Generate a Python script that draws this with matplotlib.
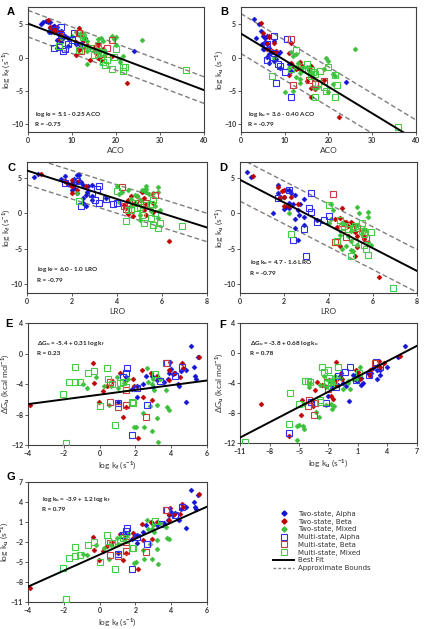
import matplotlib
matplotlib.use("Agg")
import matplotlib.pyplot as plt
from matplotlib.lines import Line2D

plt.rcParams['font.family'] = ['Lato', 'DejaVu Sans']
plt.rcParams['font.weight'] = 'bold'
plt.rcParams['mathtext.fontset'] = 'custom'
plt.rcParams['mathtext.rm'] = 'Lato:bold'
plt.rcParams['mathtext.it'] = 'Lato:bold'
plt.rcParams['mathtext.bf'] = 'Lato:bold'
plt.rcParams['mathtext.default'] = 'rm'

# ---------------- data: one entry per protein ----------------
# two-state, alpha
kf_ta = [5.1, 5.5, 5.3, 5.35, 5.4, 4.8, 4.55, 4.2, 4.1, 4.0, 3.9, 4.45, 4.4, 3.8, 3.6, 3.2, 4.8, 2.9, 2.6, 3.0, 2.4, 2.1, 2.1, 1.8, 1.5, 1.0]
ku_ta = [5.8, 5.1, 4.0, 3.2, 2.9, 3.2, 2.9, 2.3, 2.1, 2.5, 2.0, 1.3, 1.5, 1.35, 0.9, 0.6, 0.1, 0.8, 0.5, -0.2, -0.5, -1.0, -2.1, -1.6, -0.8, -3.7]
dg_ta = [1.0, -0.5, -1.8, -2.9, -3.4, -2.2, -2.3, -2.6, -2.7, -2.0, -2.6, -4.3, -4.0, -3.3, -3.7, -3.5, -6.4, -2.9, -2.9, -4.4, -4.0, -4.2, -5.7, -4.6, -3.1, -6.4]
aco_ta = [3.0, 4.2, 4.5, 5.0, 3.5, 6.0, 5.5, 5.5, 6.0, 7.5, 4.8, 5.0, 6.3, 5.2, 7.0, 8.5, 6.0, 9.0, 6.5, 8.0, 7.5, 11.0, 11.5, 9.0, 6.5, 24.0]
lro_ta = [0.3, 0.5, 1.7, 2.2, 2.3, 2.1, 1.7, 2.0, 1.8, 2.5, 2.9, 2.4, 2.2, 2.7, 2.1, 2.0, 1.5, 2.2, 2.6, 2.65, 2.9, 3.5, 2.5, 2.9, 2.5, 2.6]

# two-state, beta
kf_tb = [-3.9, -0.35, -0.3, -0.04, 0.43, 0.69, 1.33, 1.42, 1.85, 1.93, 2.17, 2.36, 2.86, 3.2, 2.95, 3.94, 3.85, 4.13, 4.6, 4.65, 5.57, 3.85, 1.5, 1.14, 2.45, 4.5, 0.2]
ku_tb = [-8.9, -1.25, -3.15, -4.65, -2.65, -1.95, -4.75, -1.25, -0.65, -1.25, -6.0, 0.75, 1.0, 1.0, -1.5, 3.15, 2.25, 2.25, 3.65, 3.25, 5.25, 1.25, -3.6, -0.75, -1.75, 2.25, -3.4]
dg_tb = [-6.8, -1.2, -3.9, -6.3, -4.2, -3.6, -8.3, -3.6, -3.4, -4.3, -11.1, -2.2, -2.5, -3.0, -6.1, -1.1, -2.2, -2.6, -1.3, -1.9, -0.4, -3.5, -7.0, -2.6, -5.7, -3.1, -4.9]
aco_tb = [22.5, 14.0, 16.5, 16.0, 11.0, 15.5, 17.0, 12.0, 13.5, 16.0, 16.0, 11.0, 7.0, 8.0, 13.0, 6.5, 7.5, 6.0, 5.0, 6.5, 4.5, 6.0, 15.0, 11.5, 12.5, 11.5, 19.0]
lro_tb = [6.3, 4.7, 5.3, 4.5, 5.2, 4.4, 5.3, 4.8, 4.5, 5.0, 5.2, 4.6, 2.0, 2.2, 5.1, 1.9, 2.0, 1.8, 1.7, 2.0, 0.6, 2.6, 5.6, 4.3, 4.9, 2.3, 5.6]

# two-state, mixed
kf_tm = [-0.92, -0.73, 0.26, 0.64, 0.95, 1.36, 1.6, 2.04, 2.73, 2.97, 3.05, 3.2, 3.2, 2.92, 3.29, 3.76, 3.85, 2.82, 2.45, 2.64, 1.9, 2.5, 2.9, 1.0, 3.4, 3.7, 0.5, -0.2]
ku_tm = [-3.85, -4.0, -2.85, -2.5, -1.35, -1.5, -0.85, -5.0, 0.0, 0.5, -0.5, -1.75, -3.0, -4.5, -5.25, -1.4, -1.6, -2.25, -3.25, 1.25, -5.2, -4.6, 0.0, -2.3, 0.9, 0.2, -4.5, -2.5]
dg_tm = [-4.0, -4.5, -4.2, -4.3, -3.1, -3.9, -3.3, -9.6, -3.7, -3.4, -4.8, -6.8, -8.5, -10.1, -11.6, -7.0, -7.4, -6.9, -7.8, -1.9, -9.7, -9.7, -4.0, -4.5, -3.4, -4.8, -6.8, -3.1]
aco_tm = [13.5, 21.0, 21.5, 16.0, 15.0, 14.0, 13.0, 12.0, 19.5, 12.5, 20.0, 19.0, 12.5, 16.5, 10.0, 12.5, 11.0, 16.0, 13.5, 26.0, 20.0, 17.0, 7.5, 13.5, 11.5, 12.0, 17.5, 21.0]
lro_tm = [5.0, 5.8, 5.5, 5.5, 4.6, 4.7, 4.1, 4.6, 5.4, 4.2, 5.8, 5.2, 4.5, 5.3, 5.1, 4.0, 5.3, 5.6, 4.9, 4.1, 5.0, 4.8, 2.2, 5.7, 5.3, 5.8, 5.9, 5.0]

# multi-state, alpha
kf_ma = [1.51, 1.29, 2.07, 1.83, 2.64, 3.38, 3.76, 4.6, 1.48, 4.2, 1.0]
ku_ma = [0.15, -1.0, -1.25, -6.0, -2.25, 0.75, 2.85, 3.25, -0.35, 2.1, -3.8]
dg_ma = [-1.9, -3.1, -4.5, -10.7, -6.7, -3.6, -1.2, -1.8, -2.5, -2.9, -6.5]
aco_ma = [7.0, 8.5, 9.0, 11.5, 10.0, 7.5, 10.5, 7.5, 6.0, 6.0, 8.0]
lro_ma = [3.2, 3.8, 3.5, 3.0, 2.9, 3.1, 3.2, 2.2, 4.0, 1.7, 2.4]

# multi-state, beta
kf_mb = [0.6, 0.6, 1.0, 1.5, 1.5, 2.6, 3.7]
ku_mb = [-4.0, -2.2, -4.1, -2.0, -3.4, -3.5, 2.75]
dg_mb = [-6.3, -3.8, -7.0, -4.8, -6.7, -8.3, -1.3]
aco_mb = [17.0, 16.0, 12.0, 18.0, 15.5, 19.0, 11.5]
lro_mb = [4.4, 4.6, 4.3, 5.3, 4.8, 5.7, 4.2]

# multi-state, mixed
kf_mm = [-1.85, -2.04, -1.7, -1.38, -1.1, -0.64, 0.02, 0.39, 0.49, 0.86, 1.14, 1.5, 1.79, 1.89, 3.1, -1.35, 1.3, 0.7, -0.3]
ku_mm = [-10.5, -5.9, -4.4, -4.1, -3.9, -2.5, -5.0, -1.0, -1.9, -6.0, -1.75, -1.75, -2.85, -2.85, 1.1, -2.7, -1.4, -2.2, -2.0]
dg_mm = [-11.8, -5.3, -3.7, -3.7, -3.8, -2.5, -6.85, -1.9, -3.3, -9.4, -3.9, -4.4, -6.3, -6.5, -2.7, -1.8, -3.7, -4.0, -2.3]
aco_mm = [36.0, 21.5, 19.0, 22.0, 17.5, 17.0, 19.5, 15.0, 16.0, 17.0, 11.5, 14.0, 7.0, 16.0, 12.5, 21.5, 20.0, 16.5, 18.0]
lro_mm = [6.9, 5.8, 5.6, 5.2, 4.4, 5.5, 5.7, 4.5, 4.6, 5.0, 5.2, 4.7, 2.3, 5.6, 4.0, 5.9, 5.5, 4.9, 5.1]

group_labels = ["Two-state, Alpha", "Two-state, Beta", "Two-state, Mixed",
                "Multi-state, Alpha", "Multi-state, Beta", "Multi-state, Mixed"]

# fit lines (intercept, slope, bound half-width) from the panel equations
fit_A = (5.1, -0.25, 2.0)
fit_B = (3.6, -0.40, 3.0)
fit_C = (6.0, -1.0, 2.0)
fit_D = (4.7, -1.6, 3.0)
fit_E = (-5.4, 0.31, None)
fit_F = (-3.8, 0.68, None)
fit_G = (-3.9, 1.2, None)

# ---------------- style ----------------
c_blue, c_red, c_green = "#1414d2", "#c00000", "#3cc03c"
sq_blue, sq_red, sq_green = "#3030e8", "#cc3a3a", "#44cc44"

groups = [
    dict(kf=kf_ta, ku=ku_ta, dg=dg_ta, aco=aco_ta, lro=lro_ta, m="D", c=c_blue, fill=True),
    dict(kf=kf_tb, ku=ku_tb, dg=dg_tb, aco=aco_tb, lro=lro_tb, m="D", c=c_red, fill=True),
    dict(kf=kf_tm, ku=ku_tm, dg=dg_tm, aco=aco_tm, lro=lro_tm, m="D", c=c_green, fill=True),
    dict(kf=kf_ma, ku=ku_ma, dg=dg_ma, aco=aco_ma, lro=lro_ma, m="s", c=sq_blue, fill=False),
    dict(kf=kf_mb, ku=ku_mb, dg=dg_mb, aco=aco_mb, lro=lro_mb, m="s", c=sq_red, fill=False),
    dict(kf=kf_mm, ku=ku_mm, dg=dg_mm, aco=aco_mm, lro=lro_mm, m="s", c=sq_green, fill=False),
]

W, H = 426, 629
fig = plt.figure(figsize=(W / 100, H / 100), dpi=100)


def add_ax(l, t, r, b):
    return fig.add_axes([l / W, 1 - b / H, (r - l) / W, (b - t) / H])


def draw_groups(ax, xk, yk):
    for g in groups:
        if g["fill"]:
            ax.plot(g[xk], g[yk], g["m"], ms=2.6, color=g["c"], mec=g["c"], mew=0.3, zorder=3)
        else:
            ax.plot(g[xk], g[yk], g["m"], ms=4.6, mfc="none", mec=g["c"], mew=0.8, zorder=3)


def panel(rect, xk, yk, xlim, ylim, xticks, yticks, xlabel, ylabel, fit, eq, r, tpos, letter, lpos, ylab_px):
    ax = add_ax(*rect)
    draw_groups(ax, xk, yk)
    b0, b1, bw = fit
    xs = [xlim[0], xlim[1]]
    ax.plot(xs, [b0 + b1 * x for x in xs], color="black", lw=1.4, zorder=4)
    if bw is not None:
        for s in (1, -1):
            ax.plot(xs, [b0 + b1 * x + s * bw for x in xs], color="#7f7f7f", lw=1.0,
                    ls=(0, (3.5, 2)), zorder=2)
    ax.set_xlim(*xlim)
    ax.set_ylim(*ylim)
    ax.set_xticks(xticks)
    ax.set_yticks(yticks)
    ax.tick_params(labelsize=5, length=2, width=0.6, pad=1.5, colors="#404040", labelcolor="#333333")
    for sp in ax.spines.values():
        sp.set_linewidth(0.8)
        sp.set_color("#404040")
    ax.set_xlabel(xlabel, fontsize=6, labelpad=2, color="#333333")
    ax.set_ylabel(ylabel, fontsize=6, color="#333333")
    # ylabel right edge placed at a pixel column of the figure
    ax.yaxis.set_label_coords((ylab_px - rect[0]) / (rect[2] - rect[0]), 0.5)
    ax.text(tpos[0], tpos[1], eq, transform=ax.transAxes, fontsize=4.6, color="#222222")
    ax.text(tpos[0], tpos[1] - 0.085, r, transform=ax.transAxes, fontsize=4.6, color="#222222")
    fig.text(lpos[0] / W, 1 - lpos[1] / H, letter, fontsize=8, fontweight="bold",
             family=["Liberation Sans", "DejaVu Sans"], ha="center", va="center")
    return ax


lab_kf = "log k$_f$ (s$^{-1}$)"
lab_ku = "log k$_u$ (s$^{-1}$)"
lab_dg = "ΔG$_u$ (kcal mol$^{-1}$)"

panel((28, 7, 204, 132), "aco", "kf", (0, 40), (-11.2, 7.6), [0, 10, 20, 30, 40], [-10, -5, 0, 5],
      "ACO", lab_kf, fit_A, "log k$_f$ = 5.1 - 0.25 ACO", "R = -0.75", (0.04, 0.13), "A", (11, 12), 12)
panel((241, 7, 416, 132), "aco", "ku", (0, 40), (-11.2, 7.6), [0, 10, 20, 30, 40], [-10, -5, 0, 5],
      "ACO", lab_ku, fit_B, "log k$_u$ = 3.6 - 0.40 ACO", "R = -0.79", (0.04, 0.13), "B", (224, 12), 225)
panel((27, 162, 207, 293), "lro", "kf", (0, 8), (-11.2, 7.2), [0, 2, 4, 6, 8], [-10, -5, 0, 5],
      "LRO", lab_kf, fit_C, "log k$_f$ = 6.0 - 1.0 LRO", "R = -0.79", (0.055, 0.17), "C", (11, 168), 12)
panel((240, 162, 417, 293), "lro", "ku", (0, 8), (-11.2, 7.2), [0, 2, 4, 6, 8], [-10, -5, 0, 5],
      "LRO", lab_ku, fit_D, "log k$_u$ = 4.7 - 1.6 LRO", "R = -0.79", (0.056, 0.22), "D", (223, 168), 225)
panel((28, 323, 207, 445), "kf", "dg", (-4, 6), (-12, 4), [-4, -2, 0, 2, 4, 6], [-12, -8, -4, 0, 4],
      lab_kf, lab_dg, fit_E, "ΔG$_u$ = -5.4 + 0.31 log k$_f$", "R = 0.23", (0.05, 0.82), "E", (9, 324), 11)
panel((240, 323, 417, 443), "ku", "dg", (-11, 7), (-12, 4), [-11, -8, -5, -2, 1, 4, 7], [-12, -8, -4, 0, 4],
      lab_ku, lab_dg, fit_F, "ΔG$_u$ = -3.8 + 0.68 log k$_u$", "R = 0.78", (0.056, 0.82), "F", (223, 325), 225)
panel((28, 482, 207, 602), "kf", "ku", (-4, 6), (-11, 7), [-4, -2, 0, 2, 4, 6], [-11, -8, -5, -2, 1, 4, 7],
      lab_kf, lab_ku, fit_G, "log k$_u$ = -3.9 + 1.2 log k$_f$", "R = 0.79", (0.078, 0.84), "G", (11, 477), 10)

# legend
handles = []
for g, lab in zip(groups, group_labels):
    if g["fill"]:
        handles.append(Line2D([], [], ls="none", marker="D", ms=2.6, color=g["c"], label=lab))
    else:
        handles.append(Line2D([], [], ls="none", marker="s", ms=4.0, mfc="none", mec=g["c"], mew=0.8, label=lab))
handles.append(Line2D([], [], color="black", lw=1.4, label="Best Fit"))
handles.append(Line2D([], [], color="#7f7f7f", lw=1.0, ls=(0, (2, 1.5)), label="Approximate Bounds"))
fig.legend(handles=handles, loc="center", bbox_to_anchor=(322 / W, 1 - 541 / H), frameon=False,
           prop={"family": "DejaVu Sans", "size": 5, "weight": "normal"}, labelspacing=0.25,
           handlelength=3.0, handletextpad=0.6, labelcolor="#333333")

fig.savefig("out.png", dpi=100)
